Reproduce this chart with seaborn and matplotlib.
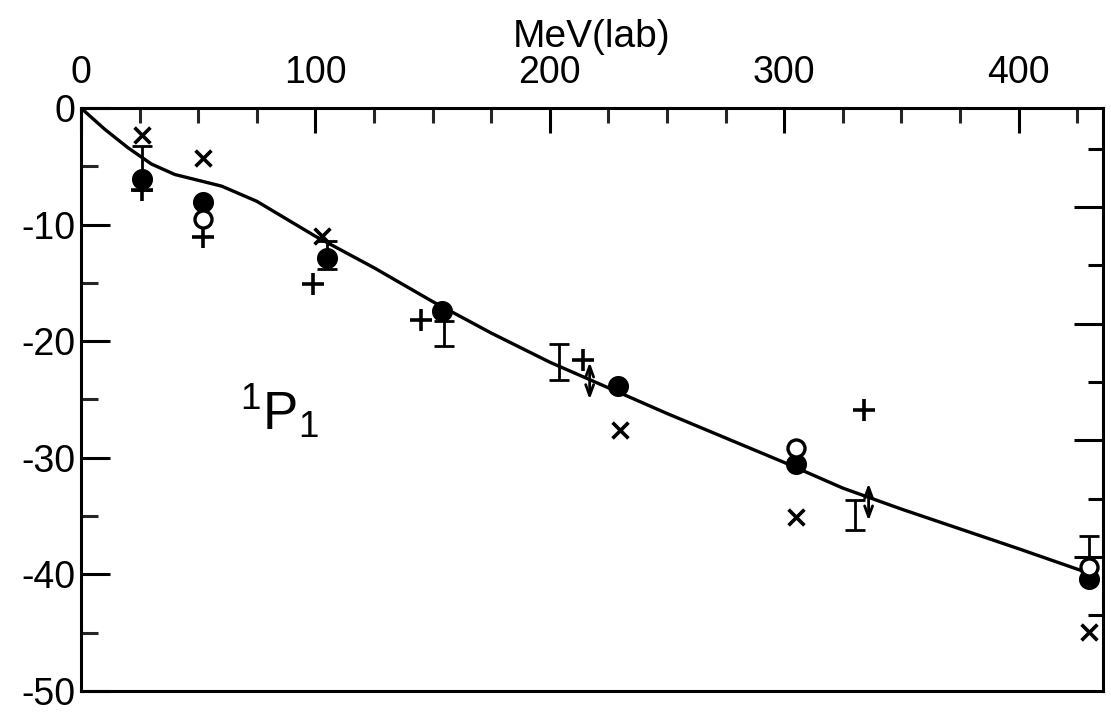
import matplotlib
matplotlib.use("Agg")
import matplotlib.pyplot as plt
import seaborn as sns
from matplotlib.ticker import MultipleLocator, FixedLocator

# ---- data ----
curve_mev = [0, 10, 20, 30, 40, 50, 60, 75, 100, 125, 150, 175, 200, 225, 250,
             275, 300, 325, 350, 375, 400, 430]
curve_phase = [0, -1.8, -3.4, -4.8, -5.7, -6.2, -6.7, -8.0, -11.0, -13.7, -16.6,
               -19.3, -21.8, -24.0, -26.2, -28.3, -30.4, -32.6, -34.4, -36.1,
               -37.8, -39.9]

cross_mev = [26, 52, 103, 230, 305, 430]
cross_phase = [-2.3, -4.3, -11.0, -27.6, -35.1, -44.9]
plus_mev = [26, 52, 99, 145, 214, 334]
plus_phase = [-7.0, -11.1, -15.1, -18.2, -21.6, -25.9]
filled_mev = [26, 52, 105, 154, 229, 305, 430]
filled_phase = [-6.1, -8.1, -12.9, -17.4, -23.8, -30.5, -40.4]
open_mev = [52, 305, 430]
open_phase = [-9.5, -29.2, -39.4]
bar_mev = [26, 105, 155, 204, 330, 430]
bar_low = [-7.0, -13.8, -20.4, -23.3, -36.2, -38.5]
bar_high = [-3.3, -11.4, -18.3, -20.2, -33.6, -36.7]
arrow_mev = [217, 336]
arrow_low = [-25.0, -35.4]
arrow_high = [-21.8, -32.2]

x_ticks = [0, 100, 200, 300, 400]
x_tick_labels = ["0", "100", "200", "300", "400"]
y_ticks = [0, -10, -20, -30, -40, -50]
y_tick_labels = ["0", "-10", "-20", "-30", "-40", "-50"]
right_major = [-8.5, -18.5, -28.5, -38.5]
right_minor = [-3.5, -13.5, -23.5, -33.5, -43.5]

x_label = "MeV(lab)"
state_label = r"${}^{1}\mathsf{P}_{1}$"

# ---- style ----
sns.set_style("white")
plt.rcParams["font.family"] = ["Liberation Sans", "DejaVu Sans"]
plt.rcParams["mathtext.fontset"] = "custom"
plt.rcParams["mathtext.rm"] = "Liberation Sans"
plt.rcParams["mathtext.sf"] = "Liberation Sans"
plt.rcParams["mathtext.it"] = "Liberation Sans"

fig = plt.figure(figsize=(11.11, 7.13), dpi=100)
ax = fig.add_axes([0.0729, 0.0309, 0.9199, 0.8176])

sns.lineplot(x=curve_mev, y=curve_phase, color="black", linewidth=2.4, ax=ax,
             sort=False, zorder=3)

ax.errorbar([x for x in bar_mev],
            [(lo + hi) / 2 for lo, hi in zip(bar_low, bar_high)],
            yerr=[(hi - lo) / 2 for lo, hi in zip(bar_low, bar_high)],
            fmt="none", ecolor="black", elinewidth=2.0, capsize=7, capthick=2.0,
            zorder=4)

sns.scatterplot(x=filled_mev, y=filled_phase, marker="o", s=200, color="black",
                edgecolor="black", linewidth=1, ax=ax, zorder=5)
sns.scatterplot(x=open_mev, y=open_phase, marker="o", s=150, color="white",
                edgecolor="black", linewidth=2.4, ax=ax, zorder=6)
sns.scatterplot(x=cross_mev, y=cross_phase, marker="x", s=130, color="black",
                linewidth=2.6, ax=ax, zorder=5)
sns.scatterplot(x=plus_mev, y=plus_phase, marker="+", s=260, color="black",
                linewidth=2.6, ax=ax, zorder=5)

for xm, lo, hi in zip(arrow_mev, arrow_low, arrow_high):
    ax.annotate("", xy=(xm, lo), xytext=(xm, hi),
                arrowprops=dict(arrowstyle="<->,head_length=0.6,head_width=0.22",
                                lw=2.0, color="black",
                                shrinkA=0, shrinkB=0, mutation_scale=13),
                zorder=6)

ax.text(67.8, -26.1, state_label, fontsize=38, ha="left", va="center",
        color="black")

# ---- axes ----
ax.set_xlim(0, 436)
ax.set_ylim(-50, 0)

ax.xaxis.tick_top()
ax.xaxis.set_label_position("top")
ax.set_xticks(x_ticks)
ax.set_xticklabels(x_tick_labels)
ax.xaxis.set_minor_locator(MultipleLocator(25))
ax.set_yticks(y_ticks)
ax.set_yticklabels(y_tick_labels)
ax.yaxis.set_minor_locator(MultipleLocator(5))

ax.tick_params(axis="x", which="major", direction="in", length=18, width=2.2,
               top=True, bottom=False, labeltop=True, labelbottom=False,
               labelsize=27, pad=12, color="black", labelcolor="black")
ax.tick_params(axis="x", which="minor", direction="in", length=11, width=2.2,
               top=True, bottom=False)
ax.tick_params(axis="y", which="major", direction="in", length=21, width=2.2,
               left=True, right=False, labelsize=27, pad=4,
               color="black", labelcolor="black")
ax.tick_params(axis="y", which="minor", direction="in", length=12, width=2.2,
               left=True, right=False)

ax.set_xlabel(x_label, fontsize=28, labelpad=6, color="black")
ax.set_ylabel("")

for side in ["left", "right", "top", "bottom"]:
    ax.spines[side].set_visible(True)
    ax.spines[side].set_color("black")
    ax.spines[side].set_linewidth(2.2)

axr = ax.twinx()
axr.set_ylim(-50, 0)
axr.yaxis.set_major_locator(FixedLocator(right_major))
axr.yaxis.set_minor_locator(FixedLocator(right_minor))
axr.tick_params(axis="y", which="major", direction="in", length=21, width=2.2,
                right=True, labelright=False, color="black")
axr.tick_params(axis="y", which="minor", direction="in", length=11, width=2.2,
                right=True, labelright=False, color="black")
for side in ["left", "right", "top", "bottom"]:
    axr.spines[side].set_visible(False)

fig.savefig("out.png", dpi=100, facecolor="white")
